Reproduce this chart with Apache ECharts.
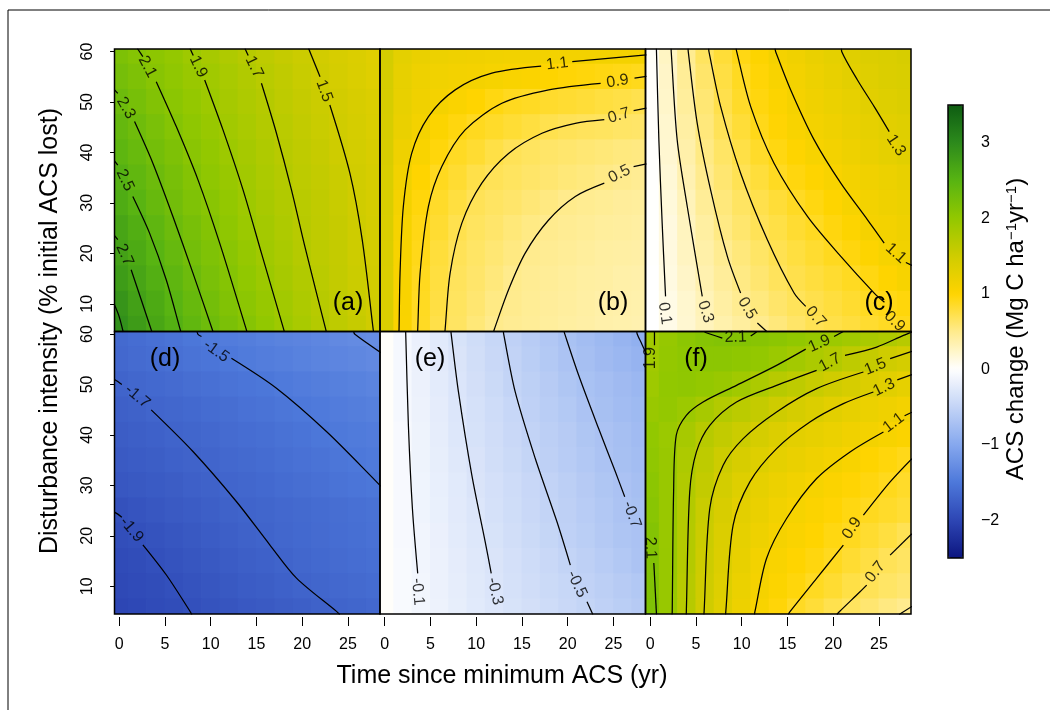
<!DOCTYPE html>
<html><head><meta charset="utf-8">
<script src="https://cdn.jsdelivr.net/npm/echarts@6/dist/echarts.min.js"></script>
<style>html,body{margin:0;padding:0;background:#fff}#c{width:1050px;height:710px}</style>
</head><body><div id="c"></div>
<script>
// ---------- data ----------
const timeCells = [0,2,4,6,8,10,12,14,16,18,20,22,24,26,28];
const intensityRows = [60,55,50,45,40,35,30,25,20,15,10,5];
const xTicks = [0,5,10,15,20,25];
const yTicks = [10,20,30,40,50,60];
const barTicks = [-2,-1,0,1,2,3];
const panelNames = ['(a)','(b)','(c)','(d)','(e)','(f)'];
const xTitle = 'Time since minimum ACS (yr)';
const yTitle = 'Disturbance intensity (% initial ACS lost)';

const fieldA = [
[2.18,2.11,2.04,1.98,1.9,1.83,1.76,1.7,1.64,1.58,1.53,1.47,1.42,1.37,1.32],
[2.24,2.17,2.09,2.02,1.94,1.88,1.81,1.75,1.68,1.62,1.56,1.5,1.44,1.39,1.33],
[2.32,2.23,2.14,2.06,1.98,1.91,1.84,1.77,1.71,1.64,1.58,1.53,1.47,1.42,1.37],
[2.39,2.3,2.21,2.11,2.03,1.95,1.87,1.8,1.73,1.67,1.61,1.55,1.49,1.44,1.39],
[2.45,2.36,2.26,2.17,2.07,1.99,1.91,1.84,1.76,1.69,1.63,1.57,1.51,1.46,1.41],
[2.53,2.42,2.32,2.22,2.12,2.03,1.95,1.87,1.79,1.72,1.65,1.6,1.54,1.48,1.43],
[2.6,2.49,2.37,2.27,2.16,2.08,1.99,1.9,1.82,1.75,1.68,1.62,1.56,1.49,1.44],
[2.68,2.57,2.44,2.32,2.22,2.12,2.03,1.93,1.85,1.77,1.69,1.63,1.57,1.51,1.45],
[2.73,2.62,2.5,2.38,2.26,2.16,2.07,1.97,1.88,1.8,1.71,1.65,1.59,1.52,1.46],
[2.79,2.68,2.56,2.44,2.32,2.21,2.11,2.01,1.92,1.83,1.75,1.67,1.6,1.53,1.47],
[2.88,2.74,2.62,2.49,2.37,2.26,2.15,2.05,1.96,1.87,1.78,1.7,1.62,1.55,1.48],
[2.93,2.8,2.67,2.55,2.42,2.31,2.2,2.1,2.0,1.9,1.81,1.72,1.64,1.57,1.49]];
const fieldB = [
[1.45,1.28,1.22,1.19,1.17,1.16,1.15,1.14,1.14,1.13,1.13,1.12,1.12,1.11,1.11],
[1.44,1.25,1.18,1.15,1.13,1.11,1.09,1.06,1.04,1.01,0.98,0.96,0.94,0.92,0.9],
[1.43,1.24,1.16,1.11,1.05,1.0,0.94,0.89,0.87,0.84,0.82,0.8,0.77,0.75,0.72],
[1.42,1.22,1.12,1.03,0.95,0.89,0.85,0.81,0.77,0.72,0.69,0.67,0.66,0.64,0.63],
[1.41,1.17,1.06,0.96,0.87,0.82,0.75,0.69,0.66,0.63,0.61,0.59,0.57,0.55,0.54],
[1.4,1.14,1.0,0.89,0.82,0.74,0.69,0.66,0.63,0.6,0.57,0.55,0.52,0.49,0.47],
[1.4,1.11,0.96,0.85,0.77,0.69,0.65,0.62,0.58,0.54,0.5,0.48,0.46,0.44,0.43],
[1.39,1.09,0.93,0.82,0.72,0.66,0.62,0.57,0.53,0.49,0.47,0.45,0.43,0.42,0.41],
[1.39,1.08,0.91,0.79,0.69,0.64,0.59,0.54,0.49,0.47,0.45,0.43,0.41,0.4,0.39],
[1.38,1.07,0.89,0.77,0.67,0.62,0.56,0.5,0.47,0.45,0.43,0.41,0.4,0.38,0.37],
[1.38,1.06,0.88,0.76,0.66,0.6,0.53,0.49,0.46,0.44,0.42,0.4,0.38,0.37,0.36],
[1.38,1.05,0.87,0.74,0.65,0.57,0.5,0.47,0.45,0.43,0.41,0.39,0.37,0.36,0.35]];
const fieldC = [
[0.03,0.26,0.48,0.66,0.8,0.93,1.02,1.11,1.16,1.22,1.27,1.32,1.36,1.39,1.42],
[0.02,0.24,0.45,0.62,0.76,0.88,0.98,1.07,1.13,1.19,1.24,1.29,1.33,1.37,1.4],
[0.02,0.23,0.43,0.59,0.73,0.85,0.95,1.03,1.1,1.16,1.21,1.25,1.3,1.34,1.37],
[0.02,0.21,0.4,0.56,0.69,0.8,0.91,0.99,1.07,1.13,1.17,1.22,1.26,1.3,1.33],
[0.01,0.2,0.37,0.53,0.64,0.75,0.85,0.94,1.01,1.08,1.13,1.18,1.22,1.27,1.31],
[0.01,0.18,0.34,0.49,0.6,0.7,0.79,0.88,0.95,1.01,1.07,1.12,1.16,1.2,1.24],
[0.01,0.16,0.3,0.45,0.56,0.65,0.73,0.8,0.87,0.94,1.01,1.08,1.13,1.17,1.2],
[0.01,0.14,0.28,0.41,0.53,0.61,0.69,0.75,0.82,0.88,0.95,1.02,1.1,1.13,1.17],
[0.01,0.14,0.27,0.38,0.48,0.56,0.64,0.71,0.77,0.83,0.89,0.95,1.02,1.09,1.15],
[0.0,0.13,0.24,0.35,0.44,0.53,0.6,0.67,0.73,0.78,0.83,0.88,0.94,1.01,1.08],
[0.0,0.11,0.21,0.31,0.4,0.48,0.55,0.62,0.68,0.73,0.78,0.83,0.88,0.92,0.96],
[0.0,0.1,0.2,0.29,0.36,0.42,0.49,0.56,0.63,0.7,0.74,0.78,0.83,0.87,0.91]];
const fieldD = [
[-1.64,-1.61,-1.58,-1.55,-1.51,-1.48,-1.46,-1.44,-1.41,-1.39,-1.37,-1.35,-1.32,-1.3,-1.28],
[-1.66,-1.63,-1.61,-1.58,-1.55,-1.53,-1.5,-1.47,-1.45,-1.43,-1.4,-1.38,-1.36,-1.34,-1.32],
[-1.7,-1.67,-1.65,-1.63,-1.6,-1.58,-1.55,-1.53,-1.51,-1.48,-1.46,-1.44,-1.42,-1.4,-1.38],
[-1.74,-1.72,-1.69,-1.67,-1.65,-1.62,-1.6,-1.57,-1.55,-1.52,-1.5,-1.48,-1.46,-1.44,-1.42],
[-1.77,-1.75,-1.73,-1.7,-1.68,-1.66,-1.63,-1.61,-1.59,-1.56,-1.54,-1.51,-1.49,-1.47,-1.46],
[-1.8,-1.78,-1.76,-1.73,-1.71,-1.69,-1.66,-1.64,-1.62,-1.59,-1.57,-1.55,-1.52,-1.5,-1.48],
[-1.83,-1.81,-1.79,-1.77,-1.74,-1.72,-1.69,-1.67,-1.65,-1.62,-1.6,-1.58,-1.55,-1.53,-1.51],
[-1.89,-1.86,-1.83,-1.8,-1.78,-1.75,-1.72,-1.7,-1.68,-1.66,-1.64,-1.62,-1.6,-1.58,-1.56],
[-1.92,-1.9,-1.87,-1.84,-1.81,-1.78,-1.75,-1.72,-1.7,-1.67,-1.65,-1.63,-1.61,-1.59,-1.57],
[-1.95,-1.93,-1.9,-1.87,-1.84,-1.81,-1.78,-1.75,-1.73,-1.7,-1.67,-1.65,-1.63,-1.61,-1.59],
[-1.97,-1.95,-1.93,-1.9,-1.87,-1.84,-1.81,-1.78,-1.76,-1.73,-1.7,-1.68,-1.66,-1.64,-1.62],
[-2.0,-1.98,-1.95,-1.93,-1.9,-1.87,-1.85,-1.82,-1.8,-1.77,-1.75,-1.72,-1.7,-1.68,-1.66]];
const fieldE = [
[0.02,-0.08,-0.17,-0.25,-0.33,-0.4,-0.47,-0.53,-0.59,-0.65,-0.71,-0.76,-0.81,-0.86,-0.91],
[0.02,-0.08,-0.16,-0.24,-0.31,-0.38,-0.45,-0.51,-0.57,-0.63,-0.69,-0.74,-0.79,-0.83,-0.87],
[0.02,-0.08,-0.16,-0.23,-0.3,-0.37,-0.43,-0.5,-0.55,-0.6,-0.66,-0.71,-0.75,-0.79,-0.83],
[0.02,-0.08,-0.15,-0.22,-0.29,-0.35,-0.41,-0.47,-0.53,-0.58,-0.63,-0.69,-0.73,-0.77,-0.8],
[0.02,-0.07,-0.14,-0.21,-0.28,-0.34,-0.39,-0.45,-0.51,-0.56,-0.6,-0.66,-0.7,-0.74,-0.78],
[0.02,-0.07,-0.14,-0.2,-0.27,-0.32,-0.38,-0.43,-0.49,-0.54,-0.59,-0.64,-0.69,-0.73,-0.76],
[0.02,-0.07,-0.13,-0.19,-0.25,-0.31,-0.36,-0.41,-0.46,-0.51,-0.56,-0.61,-0.66,-0.7,-0.74],
[0.02,-0.07,-0.13,-0.18,-0.24,-0.29,-0.35,-0.4,-0.45,-0.5,-0.54,-0.59,-0.64,-0.69,-0.72],
[0.02,-0.07,-0.12,-0.17,-0.23,-0.28,-0.33,-0.38,-0.43,-0.48,-0.53,-0.57,-0.62,-0.67,-0.7],
[0.02,-0.06,-0.12,-0.16,-0.22,-0.27,-0.31,-0.36,-0.41,-0.45,-0.5,-0.54,-0.59,-0.64,-0.69],
[0.02,-0.06,-0.11,-0.16,-0.21,-0.26,-0.3,-0.35,-0.39,-0.43,-0.47,-0.52,-0.56,-0.6,-0.64],
[0.02,-0.06,-0.11,-0.15,-0.2,-0.25,-0.29,-0.33,-0.37,-0.41,-0.45,-0.49,-0.53,-0.57,-0.61]];
const fieldF = [
[1.86,1.97,2.05,2.1,2.13,2.12,2.09,2.05,2.01,1.96,1.92,1.87,1.81,1.76,1.7],
[1.88,1.98,2.03,2.05,2.05,2.03,1.99,1.93,1.86,1.79,1.72,1.64,1.58,1.5,1.45],
[1.9,2.0,2.02,1.98,1.94,1.88,1.79,1.7,1.64,1.56,1.49,1.43,1.36,1.31,1.26],
[1.94,1.98,1.92,1.83,1.73,1.66,1.59,1.51,1.44,1.37,1.3,1.25,1.21,1.17,1.12],
[2.0,1.93,1.83,1.7,1.61,1.53,1.44,1.36,1.29,1.25,1.21,1.16,1.12,1.08,1.04],
[2.02,1.94,1.78,1.64,1.52,1.42,1.34,1.27,1.22,1.17,1.12,1.07,1.01,0.96,0.91],
[2.05,1.94,1.75,1.6,1.46,1.34,1.26,1.2,1.15,1.09,1.04,0.99,0.95,0.9,0.85],
[2.08,1.94,1.73,1.55,1.41,1.29,1.22,1.15,1.09,1.04,0.99,0.94,0.89,0.85,0.81],
[2.12,1.94,1.72,1.53,1.37,1.26,1.18,1.1,1.05,1.0,0.94,0.89,0.83,0.77,0.7],
[2.14,1.95,1.72,1.52,1.36,1.24,1.13,1.06,1.0,0.95,0.89,0.82,0.76,0.69,0.65],
[2.15,1.95,1.7,1.5,1.34,1.21,1.1,1.03,0.96,0.88,0.82,0.75,0.69,0.64,0.6],
[2.16,1.95,1.7,1.49,1.32,1.19,1.07,0.97,0.87,0.8,0.72,0.66,0.6,0.54,0.49]];

// contour lines: segments of [time, intensity]; lab = [time, intensity, angle]
const contoursA = [
 {lv:'2.9', segs:[[[-0.5,9.8],[0.0,7.5],[0.45,4.4]]]},
 {lv:'2.7', segs:[[[-0.5,23.5],[-0.14,22.7]],[[1.32,16.74],[2.42,10.8],[3.51,4.86],[3.6,4.4]]], lab:[0.6,19.7,-66]},
 {lv:'2.5', segs:[[[-0.5,38.3],[-0.14,37.5]],[[1.5,31.26],[3.33,24.0],[5.15,14.76],[6.68,4.86],[6.75,4.4]]], lab:[0.65,34.5,-65]},
 {lv:'2.3', segs:[[[-0.5,52.4],[-0.14,51.7]],[[1.69,46.11],[3.69,37.86],[5.88,27.3],[8.07,16.08],[10.19,4.86],[10.27,4.4]]], lab:[0.75,48.8,-60]},
 {lv:'2.1', segs:[[[2.0,60.6],[2.6,59.0]],[[4.06,54.03],[6.25,45.12],[8.62,34.56],[10.99,22.02],[13.9,4.86],[13.97,4.4]]], lab:[3.1,57.0,-62]},
 {lv:'1.9', segs:[[[7.75,60.6],[8.1,59.2]],[[9.35,54.36],[11.35,44.46],[13.54,32.58],[15.55,20.04],[17.99,4.86],[18.05,4.4]]], lab:[8.65,57.0,-65]},
 {lv:'1.7', segs:[[[13.75,60.6],[14.1,59.2]],[[15.55,53.7],[17.19,43.8],[18.83,32.58],[20.29,21.36],[22.58,4.86],[22.65,4.4]]], lab:[14.75,56.9,-64]},
 {lv:'1.5', segs:[[[20.7,60.6],[21.95,55.0]],[[23.02,49.4],[25.21,35.88],[26.56,22.68],[27.76,4.86],[27.8,4.4]]], lab:[22.4,52.2,-70]}
];
const contoursB = [
 {lv:'1.1', segs:[[[1.55,4.4],[1.58,4.86],[1.69,16.08],[2.05,29.28],[2.96,39.8],[4.79,47.1],[7.71,52.4],[11.72,55.7],[17.1,57.1]],[[20.5,58.0],[28.6,59.35]]], lab:[18.85,57.55,7]},
 {lv:'0.9', segs:[[[3.6,4.4],[3.62,4.86],[3.88,16.08],[4.79,29.28],[6.25,37.2],[8.8,44.46],[12.81,49.74],[17.92,52.4],[23.6,53.7]],[[27.3,54.75],[28.6,55.05]]], lab:[25.45,54.1,9]},
 {lv:'0.7', segs:[[[6.58,4.4],[6.61,4.86],[7.16,16.08],[8.44,25.98],[10.62,33.9],[13.54,39.8],[17.19,43.8],[20.83,45.77],[24.0,46.5]],[[27.2,48.3],[28.6,48.8]]], lab:[25.6,47.3,16]},
 {lv:'0.5', segs:[[[11.9,4.4],[11.97,4.86],[13.54,12.78],[15.36,20.04],[17.92,26.6],[20.83,31.26],[24.0,33.9]],[[27.2,37.2],[28.6,37.75]]], lab:[25.65,35.7,27]}
];
const contoursC = [
 {lv:'0.1', segs:[[[0.69,60.6],[0.70,59.97],[0.96,42.48],[1.32,25.98],[1.69,11.46]]], lab:[1.6,8.1,-82]},
 {lv:'0.3', segs:[[[2.3,60.6],[2.31,59.97],[2.96,42.48],[4.06,29.28],[5.7,11.46]]], lab:[6.06,8.4,-72]},
 {lv:'0.5', segs:[[[4.15,60.6],[4.17,59.97],[5.15,45.77],[6.61,32.58],[8.44,19.38],[9.89,12.12]],[[11.72,6.18],[12.8,4.4]]], lab:[10.6,9.1,-60]},
 {lv:'0.7', segs:[[[6.4,60.6],[6.43,59.97],[7.71,49.08],[9.89,35.88],[12.81,22.68],[15.73,12.12],[17.0,9.48]]], lab:[18.1,7.4,-48]},
 {lv:'0.9', segs:[[[9.4,60.6],[9.46,59.97],[10.99,49.08],[13.54,37.86],[17.19,27.3],[20.83,19.38],[24.48,12.12],[25.6,10.3]]], lab:[26.7,6.5,-45]},
 {lv:'1.1', segs:[[[13.65,60.6],[13.72,59.97],[15.36,52.38],[17.92,42.48],[20.83,33.9],[23.75,26.64],[25.57,22.02]],[[27.94,18.19],[28.6,17.6]]], lab:[26.85,20.0,-42]},
 {lv:'1.3', segs:[[[20.9,60.6],[20.94,59.97],[22.65,54.36],[24.48,49.08],[26.12,44.13]]], lab:[26.85,41.4,-57]}
];
const contoursD = [
 {lv:'-1.3', segs:[[[25.6,60.6],[25.76,59.94],[28.6,56.3]]]},
 {lv:'-1.5', segs:[[[8.5,60.6],[8.62,59.94],[9.0,59.5]],[[12.27,55.19],[17.19,49.25],[22.65,40.67],[28.02,30.9],[28.6,29.8]]], lab:[10.6,56.6,-36]},
 {lv:'-1.7', segs:[[[-0.5,51.0],[-0.14,50.57],[0.3,50.0]],[[3.51,44.96],[8.07,36.71],[12.81,26.8],[16.46,18.22],[19.38,11.62],[23.75,5.02],[24.1,4.4]]], lab:[2.0,47.6,-40]},
 {lv:'-1.9', segs:[[[-0.5,24.7],[-0.14,24.3],[0.3,23.7]],[[2.6,18.22],[5.15,12.28],[7.71,5.15],[7.95,4.4]]], lab:[1.35,21.2,-50]}
];
const contoursE = [
 {lv:'-0.1', segs:[[[2.3,60.6],[2.31,60.07],[2.6,41.92],[3.04,25.42],[3.62,12.55]]], lab:[3.62,8.9,-85]},
 {lv:'-0.3', segs:[[[7.25,60.6],[7.27,60.07],[8.07,48.52],[9.53,32.02],[10.99,18.82],[11.65,12.55]]], lab:[12.05,9.0,-77]},
 {lv:'-0.5', segs:[[[12.98,60.6],[13.0,60.07],[14.27,48.52],[16.46,35.32],[18.83,22.78],[20.29,14.2]],[[22.11,6.94],[22.75,4.4]]], lab:[21.0,10.4,-65]},
 {lv:'-0.7', segs:[[[19.6,60.6],[19.67,60.07],[21.2,51.82],[23.38,41.26],[25.21,32.68],[26.23,27.73]]], lab:[27.0,24.2,-70]},
 {lv:'-0.9', segs:[[[27.55,60.6],[27.58,60.07],[28.13,57.89],[28.6,56.0]]]}
];
const contoursF = [
 {lv:'2.1', segs:[[[5.9,60.6],[6.06,60.3],[7.89,59.2]],[[10.99,59.6],[11.54,60.3],[11.7,60.6]]], lab:[9.35,59.35,2]},
 {lv:'1.9', segs:[[[0.48,60.6],[0.48,57.75]]], lab:[0.05,55.2,90]},
 {lv:'2.1', segs:[[[0.41,14.6],[0.7,4.4]]], lab:[0.05,17.6,-88]},
 {lv:'1.9', segs:[[[2.4,4.4],[2.42,4.95],[2.57,28.71],[2.86,39.93],[3.96,43.89],[5.79,46.53],[9.44,49.83],[13.82,53.79],[17.0,57.0]],[[20.1,59.5],[21.2,60.6]]], lab:[18.5,58.1,24]},
 {lv:'1.7', segs:[[[3.95,4.4],[3.96,4.95],[4.33,28.71],[5.06,36.63],[6.52,41.91],[9.44,46.53],[13.82,49.83],[18.19,52.8]],[[21.29,55.77],[24.76,57.42],[27.68,59.73],[28.6,60.4]]], lab:[19.65,54.35,28]},
 {lv:'1.5', segs:[[[5.88,4.4],[5.9,4.95],[6.52,25.41],[7.98,33.99],[10.17,39.27],[13.82,44.55],[18.19,49.17],[23.3,52.47]],[[26.22,55.11],[28.6,56.55]]], lab:[24.6,53.5,22]},
 {lv:'1.3', segs:[[[8.25,4.4],[8.27,4.95],[9.07,22.11],[10.9,30.69],[13.82,37.29],[17.46,42.57],[21.11,46.2],[24.39,48.51]],[[27.0,50.9],[28.6,51.95]]], lab:[25.55,49.4,26]},
 {lv:'1.1', segs:[[[11.4,4.4],[11.45,4.95],[12.72,15.51],[14.91,23.43],[18.19,31.35],[21.84,36.63],[25.49,40.59]],[[27.8,43.8],[28.6,44.5]]], lab:[26.6,42.4,37]},
 {lv:'0.9', segs:[[[15.1,4.4],[15.28,4.95],[18.19,11.55],[21.11,18.15]],[[23.3,24.09],[26.22,30.69],[28.6,35.3]]], lab:[22.05,21.5,56]},
 {lv:'0.7', segs:[[[20.4,4.4],[20.67,4.95],[22.93,8.91],[23.66,10.23]],[[26.22,16.17],[28.6,20.4]]], lab:[24.6,12.8,52]},
 {lv:'0.5', segs:[[[27.2,4.4],[28.6,6.0]]]}
];

const fields = [fieldA, fieldB, fieldC, fieldD, fieldE, fieldF];
const contours = [contoursA, contoursB, contoursC, contoursD, contoursE, contoursF];
const palette = ['#0c1580','#2d46b4','#4d78da','#86a8ee','#c3d4f6','#ffffff','#ffeb8c','#ffd400','#cfcc00','#92c800','#58b412','#2c8a1c','#0e5c12'];

// ---------- layout ----------
const FONT = 'Liberation Sans, Arial, Helvetica, sans-serif';
const panelLeft = [114.5, 380, 645.5];
const panelTop = [49, 331.5];
const panelW = 265.5, panelH = 282.5;
const labelPos = [[348,303],[613,303],[879,303],[165,359],[430,359],[696,359]];

const chart = echarts.init(document.getElementById('c'), null, {renderer: 'canvas'});

const grids = [], xAxes = [], yAxes = [], series = [], heatIdx = [];
for (let i = 0; i < 6; i++) {
  const col = i % 3, row = Math.floor(i / 3);
  grids.push({left: panelLeft[col], top: panelTop[row], width: panelW, height: panelH,
    show: true, borderColor: '#000', borderWidth: 1.5, backgroundColor: 'transparent', z: 5,
    containLabel: false, outerBoundsMode: 'none'});
  xAxes.push({gridIndex: i, type: 'value', min: -0.5, max: 28.5, offset: 3,
    axisLine: {show: false}, splitLine: {show: false},
    axisTick: {show: row === 1, customValues: xTicks, length: 9, lineStyle: {color: '#000', width: 1}},
    axisLabel: {show: row === 1, customValues: xTicks, fontSize: 16, color: '#000', margin: 20, fontFamily: FONT}});
  yAxes.push({gridIndex: i, type: 'value', min: 4.5, max: 60.5, offset: 1.5,
    axisLine: {show: false}, splitLine: {show: false},
    axisTick: {show: col === 0, customValues: yTicks, length: 9, lineStyle: {color: '#000', width: 1}},
    axisLabel: {show: col === 0, customValues: yTicks, rotate: 90, fontSize: 16, color: '#000', margin: 17, fontFamily: FONT}});
}
// colour bar axis
grids.push({left: 948, top: 105, width: 15, height: 453, show: true, borderColor: '#000', borderWidth: 1.5,
  backgroundColor: 'transparent', z: 6, containLabel: false, outerBoundsMode: 'none'});
xAxes.push({gridIndex: 6, type: 'value', show: false, min: 0, max: 1});
yAxes.push({gridIndex: 6, type: 'value', position: 'right', min: -2.5, max: 3.5,
  axisLine: {show: false}, splitLine: {show: false},
  axisTick: {show: true, customValues: barTicks, length: 9, lineStyle: {color: '#000', width: 1}},
  axisLabel: {show: true, customValues: barTicks, fontSize: 16, color: '#000', margin: 18, fontFamily: FONT,
    formatter: v => String(v).replace('-', '\u2212')}});

function renderCell(params, api) {
  const x = api.value(0), y = api.value(1);
  const a = api.coord([x - 1, y + 2.5]);
  const b = api.coord([x + 1, y - 2.5]);
  const cs = params.coordSys;
  const shape = echarts.graphic.clipRectByRect(
    {x: a[0] - 0.4, y: a[1] - 0.4, width: b[0] - a[0] + 0.8, height: b[1] - a[1] + 0.8},
    {x: cs.x, y: cs.y, width: cs.width, height: cs.height});
  if (!shape) return;
  return {type: 'rect', shape: shape, style: {fill: api.visual('color')}};
}

for (let i = 0; i < 6; i++) {
  const data = [];
  fields[i].forEach((r, ri) => r.forEach((v, ci) => data.push([timeCells[ci], intensityRows[ri], v])));
  heatIdx.push(series.length);
  series.push({type: 'custom', xAxisIndex: i, yAxisIndex: i, data: data, renderItem: renderCell,
    encode: {x: 0, y: 1}, silent: true, z: 1});
}
for (let i = 0; i < 6; i++) {
  const labs = [];
  contours[i].forEach(c => {
    c.segs.forEach(s => series.push({type: 'line', xAxisIndex: i, yAxisIndex: i, data: s,
      symbol: 'none', smooth: 0.3, silent: true, z: 3, clip: true,
      lineStyle: {color: '#000', width: 1.25}}));
    if (c.lab) labs.push({name: c.lv, value: [c.lab[0], c.lab[1]], label: {rotate: c.lab[2]}});
  });
  series.push({type: 'scatter', xAxisIndex: i, yAxisIndex: i, data: labs, symbolSize: 0.1,
    itemStyle: {color: 'rgba(0,0,0,0)'}, silent: true, z: 4, clip: false,
    label: {show: true, position: 'inside', formatter: '{b}', fontSize: 16, color: '#000', fontFamily: FONT}});
}
series.push({type: 'scatter', xAxisIndex: 6, yAxisIndex: 6, data: []});

const graphics = [
  {type: 'line', shape: {x1: 8, y1: 10, x2: 1050, y2: 10}, style: {stroke: '#000', lineWidth: 1}},
  {type: 'line', shape: {x1: 8, y1: 10, x2: 8, y2: 710}, style: {stroke: '#000', lineWidth: 1}},
  {type: 'text', x: 502, y: 676, style: {text: xTitle, fontSize: 25, fontFamily: FONT, fill: '#000', align: 'center', verticalAlign: 'middle'}},
  {type: 'text', x: 50, y: 331, rotation: Math.PI / 2, style: {text: yTitle, fontSize: 25, fontFamily: FONT, fill: '#000', align: 'center', verticalAlign: 'middle'}},
  {type: 'text', x: 1016, y: 329, rotation: Math.PI / 2, style: {
    text: 'ACS change (Mg C ha{s|\u22121}yr{s|\u22121})', fontSize: 24, fontFamily: FONT, fill: '#000',
    align: 'center', verticalAlign: 'middle',
    rich: {s: {fontSize: 15, fontFamily: FONT, fill: '#000', verticalAlign: 'top', lineHeight: 15}}}}
];
panelNames.forEach((t, i) => graphics.push({type: 'text', x: labelPos[i][0], y: labelPos[i][1], z: 10,
  style: {text: t, fontSize: 25, fontFamily: FONT, fill: '#000', align: 'center', verticalAlign: 'middle'}}));

chart.setOption({
  animation: false,
  backgroundColor: '#fff',
  textStyle: {fontFamily: FONT},
  grid: grids, xAxis: xAxes, yAxis: yAxes, series: series,
  visualMap: {type: 'continuous', min: -2.5, max: 3.5, dimension: 2, seriesIndex: heatIdx,
    inRange: {color: palette}, left: 948, top: 105, itemWidth: 15, itemHeight: 453,
    calculable: false, hoverLink: false, padding: 0, text: null, z: 4},
  graphic: graphics
});
</script></body></html>
